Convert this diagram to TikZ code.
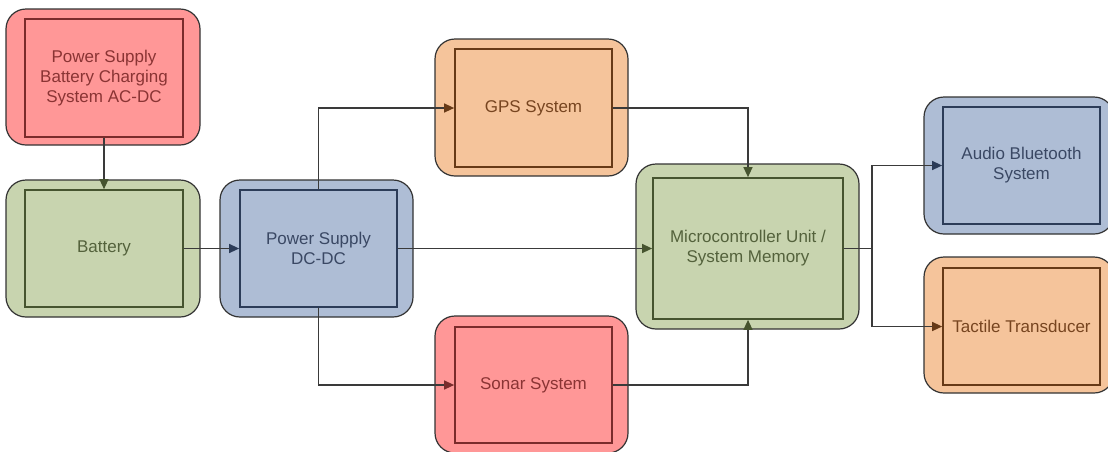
\documentclass[tikz,border=0pt]{standalone}
\usepackage{fontspec}
\setmainfont{Liberation Sans}
\usetikzlibrary{arrows.meta}
\definecolor{redF}{HTML}{FF9797}
\definecolor{redD}{HTML}{7A2C2C}
\definecolor{redT}{HTML}{8A3434}
\definecolor{grnF}{HTML}{C8D4AF}
\definecolor{grnD}{HTML}{46542F}
\definecolor{grnT}{HTML}{54623C}
\definecolor{bluF}{HTML}{AEBDD5}
\definecolor{bluD}{HTML}{2C3C58}
\definecolor{bluT}{HTML}{3A4864}
\definecolor{orgF}{HTML}{F5C49B}
\definecolor{orgD}{HTML}{673A17}
\definecolor{orgT}{HTML}{774520}
\definecolor{edgeC}{HTML}{333333}
\definecolor{lineC}{HTML}{3A3A3A}
\tikzset{
  outerbox/.style={draw=edgeC, line width=1.2pt, rounded corners=20pt, fill=#1, inner sep=0pt},
  innerbox/.style={draw=#1, line width=1.7pt, inner sep=0pt, align=center,
    font=\fontsize{17}{20}\selectfont},
  conn/.style={draw=lineC, line width=1.3pt, -{Triangle[length=10pt,width=9pt,color=#1,fill=#1]}},
}
\begin{document}
\begin{tikzpicture}[x=1pt,y=-1pt]
\useasboundingbox (0,0) rectangle (1108,451);
\clip (0,0) rectangle (1108,451);
% outer rounded boxes
\node[outerbox=redF, minimum width=194, minimum height=136] (o1) at (103,77) {};
\node[outerbox=grnF, minimum width=194, minimum height=137] (o2) at (103,248.5) {};
\node[outerbox=bluF, minimum width=193, minimum height=137] (o3) at (316.5,248.5) {};
\node[outerbox=orgF, minimum width=193, minimum height=137] (o4) at (531.5,107.5) {};
\node[outerbox=redF, minimum width=193, minimum height=137] (o5) at (531.5,384.5) {};
\node[outerbox=grnF, minimum width=223, minimum height=165] (o6) at (747.5,246.5) {};
\node[outerbox=bluF, minimum width=190, minimum height=137] (o7) at (1019,165.5) {};
\node[outerbox=orgF, minimum width=190, minimum height=136] (o8) at (1019,325) {};
% inner boxes
\node[innerbox=redD, text=redT, minimum width=158, minimum height=118] (psac) at (104,78) {Power Supply\\Battery Charging\\System AC-DC};
\node[innerbox=grnD, text=grnT, minimum width=158, minimum height=117] (bat) at (104,248.5) {Battery};
\node[innerbox=bluD, text=bluT, minimum width=157, minimum height=117] (dcdc) at (318.5,248.5) {Power Supply\\DC-DC};
\node[innerbox=orgD, text=orgT, minimum width=157, minimum height=118] (gps) at (533.5,108) {GPS System};
\node[innerbox=redD, text=redT, minimum width=157, minimum height=116] (sonar) at (533.5,385) {Sonar System};
\node[innerbox=grnD, text=grnT, minimum width=190, minimum height=141] (mcu) at (748,248.5) {Microcontroller Unit /\\System Memory};
\node[innerbox=bluD, text=bluT, minimum width=157, minimum height=117] (audio) at (1021.5,165.5) {Audio Bluetooth\\System};
\node[innerbox=orgD, text=orgT, minimum width=157, minimum height=117] (tact) at (1021.5,326.5) {Tactile Transducer};
% connectors
\coordinate (br) at (872,248.5);
\draw[conn=grnD] (psac.south) -- (bat.north);
\draw[conn=bluD] (bat.east) -- (dcdc.west);
\draw[conn=grnD] (dcdc.east) -- (mcu.west);
\draw[conn=orgD] (dcdc.north) |- (gps.west);
\draw[conn=redD] (dcdc.south) |- (sonar.west);
\draw[conn=grnD] (gps.east) -| (mcu.north);
\draw[conn=grnD] (sonar.east) -| (mcu.south);
\draw[draw=lineC, line width=1.3pt] (mcu.east) -- (br);
\draw[conn=bluD] (br) |- (audio.west);
\draw[conn=orgD] (br) |- (tact.west);
\end{tikzpicture}
\end{document}
